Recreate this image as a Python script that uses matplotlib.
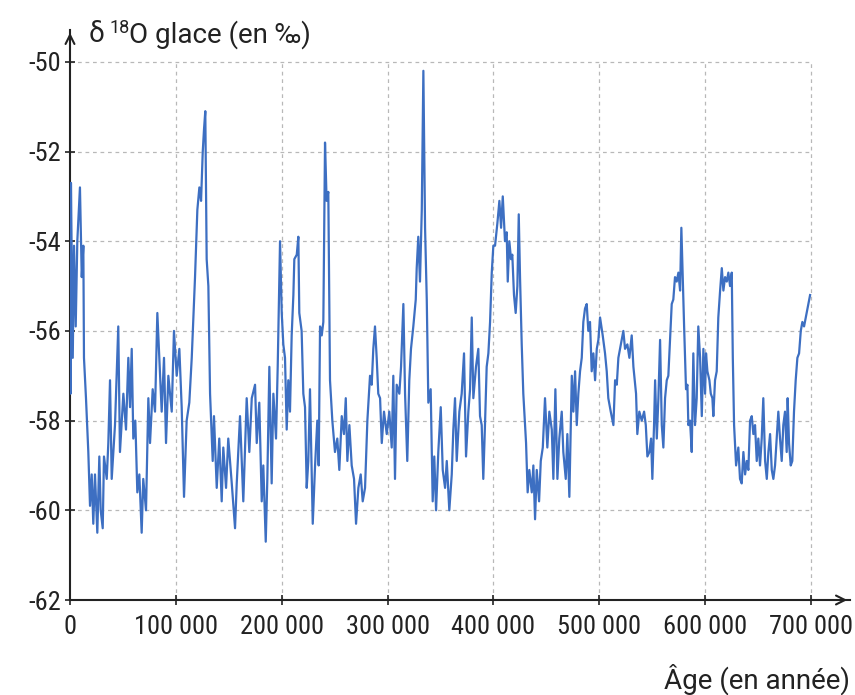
import matplotlib.pyplot as plt
import numpy as np

# age in thousands of years
age_kyr = [0, 0.5, 0.9, 2.6, 3.8, 5.4, 6.9, 9.4, 11.1, 12.6, 13.2, 15.1, 17.3, 18.9, 20.5, 22.0,
           23.6, 25.8, 27.7, 29.0, 30.9, 32.1, 34.7, 36.2, 37.8, 39.4, 42.5, 45.6, 47.2, 50.4,
           52.9, 55.1, 56.7, 58.3, 59.8, 61.7, 63.6, 65.5, 67.7, 69.2, 71.8, 74.0, 75.6, 78.1,
           80.3, 82.5, 84.4, 86.6, 88.8, 90.7, 92.9, 96.1, 98.2, 100.8, 103.3, 105.5, 107.7,
           110.2, 112.7, 115.0, 116.5, 118.1, 120.3, 122.2, 123.8, 125.4, 126.6, 127.8, 129.1,
           130.7, 132.3, 134.8, 136.0, 138.6, 141.0, 143.3, 144.8, 147.4, 149.5, 152.8, 155.9,
           157.5, 160.6, 163.7, 166.9, 169.4, 171.7, 174.8, 176.4, 178.8, 181.1, 182.6, 184.9,
           186.4, 188.3, 190.5, 192.1, 194.6, 196.2, 198.4, 200.0, 201.5, 203.1, 204.7, 206.2,
           207.8, 209.4, 211.0, 211.9, 214.2, 215.7, 216.6, 218.8, 220.4, 222.0, 223.6, 225.1,
           226.7, 229.3, 231.5, 233.6, 234.9, 236.2, 237.8, 239.3, 240.9, 242.4, 244.0, 245.6,
           247.8, 250.3, 252.5, 254.4, 256.7, 258.8, 260.5, 262.0, 263.9, 266.1, 268.3, 270.2,
           272.4, 274.6, 276.5, 278.7, 280.9, 283.4, 285.0, 286.5, 288.1, 289.7, 291.2, 292.9,
           294.5, 296.6, 299.2, 301.6, 303.9, 305.4, 307.0, 308.6, 311.1, 312.7, 314.9, 316.5,
           318.6, 320.5, 322.1, 324.3, 326.6, 327.5, 329.0, 330.6, 332.3, 333.8, 335.4, 337.0,
           338.5, 340.7, 342.6, 344.1, 345.8, 347.9, 350.2, 352.1, 354.3, 355.9, 358.3, 360.6,
           362.1, 363.7, 365.3, 367.8, 370.0, 372.2, 374.1, 376.3, 377.9, 379.5, 381.0, 383.5,
           385.7, 387.3, 388.9, 390.4, 392.0, 393.6, 395.2, 396.8, 398.4, 399.9, 401.5, 403.7,
           405.6, 407.2, 408.8, 410.9, 412.5, 413.5, 415.0, 416.6, 417.8, 419.4, 421.0, 422.6,
           423.9, 425.1, 426.7, 428.2, 430.8, 432.3, 433.9, 436.2, 437.7, 439.3, 440.9, 443.1,
           444.7, 446.6, 448.7, 450.9, 452.8, 455.1, 456.6, 458.5, 460.4, 462.2, 464.5, 466.0,
           468.3, 469.8, 471.7, 474.0, 475.5, 477.1, 478.7, 480.2, 481.8, 483.4, 484.9, 486.5,
           488.1, 489.6, 491.2, 492.8, 494.4, 496.0, 497.6, 499.1, 500.7, 503.2, 505.4, 507.0,
           508.5, 510.8, 513.3, 514.9, 516.5, 518.0, 520.3, 522.7, 524.3, 526.5, 528.4, 530.6,
           532.2, 534.7, 535.9, 537.8, 540.1, 542.3, 543.9, 545.4, 547.3, 548.9, 550.1, 551.7,
           552.7, 554.3, 555.8, 557.4, 559.0, 560.5, 562.1, 563.7, 565.2, 566.8, 568.4, 569.9,
           571.5, 573.1, 574.7, 576.3, 577.5, 578.8, 580.1, 581.9, 583.2, 584.1, 585.7, 587.3,
           588.8, 590.4, 592.0, 593.5, 595.2, 596.8, 598.3, 599.9, 600.8, 602.1, 604.0, 605.3,
           606.8, 607.7, 609.3, 610.9, 612.4, 614.1, 615.7, 617.2, 618.8, 620.4, 621.9, 623.5,
           625.1, 626.1, 627.3, 629.2, 631.3, 632.9, 634.5, 636.1, 637.7, 639.3, 640.8, 642.4,
           644.0, 645.5, 647.1, 648.7, 650.2, 651.8, 653.4, 654.9, 656.6, 658.2, 659.7, 661.3,
           662.9, 664.4, 666.0, 667.6, 669.1, 670.7, 672.3, 673.8, 675.4, 677.0, 677.9, 679.2,
           680.8, 682.3, 683.9, 685.5, 687.1, 688.7, 690.3, 691.8, 693.4, 695.0, 696.5, 698.1,
           699.1]

d18o = [-53.5, -57.4, -52.7, -56.6, -54.1, -55.9, -54.0, -52.8, -54.8, -54.1, -56.6, -57.5,
        -58.7, -59.9, -59.2, -60.3, -59.2, -60.5, -58.8, -60.0, -60.4, -58.8, -59.3, -58.5,
        -57.1, -59.3, -58.1, -55.9, -58.7, -57.4, -58.2, -56.6, -57.7, -56.4, -58.4, -58.0,
        -59.6, -59.2, -60.5, -59.3, -60.0, -57.5, -58.5, -57.3, -57.8, -55.6, -56.6, -57.8,
        -56.6, -58.5, -57.0, -57.8, -56.0, -57.0, -56.4, -57.7, -59.7, -58.0, -57.6, -56.6,
        -55.7, -54.8, -53.3, -52.8, -53.1, -52.0, -51.5, -51.1, -54.4, -55.0, -57.4, -58.9,
        -57.9, -59.5, -58.4, -59.8, -58.6, -59.5, -58.4, -59.4, -60.4, -59.4, -57.9, -59.8,
        -57.5, -58.7, -57.5, -57.2, -58.5, -57.6, -59.8, -59.0, -60.7, -59.3, -56.8, -59.4,
        -57.4, -58.4, -56.8, -54.0, -55.6, -56.3, -56.6, -58.2, -57.1, -57.8, -56.1, -55.2,
        -54.4, -54.3, -53.9, -55.6, -56.0, -57.4, -57.7, -59.5, -58.9, -57.3, -60.3, -59.0,
        -58.0, -59.0, -55.9, -56.1, -55.8, -51.8, -53.1, -52.9, -57.1, -58.0, -58.7, -58.4,
        -59.1, -57.9, -58.3, -57.5, -58.9, -58.1, -59.0, -59.3, -60.3, -59.5, -59.2, -59.8,
        -59.5, -58.0, -57.0, -57.2, -56.4, -55.9, -56.6, -57.4, -57.5, -58.5, -57.8, -58.3,
        -57.8, -58.6, -57.0, -59.3, -57.2, -57.4, -56.8, -55.4, -57.4, -58.9, -57.1, -56.4,
        -55.9, -55.3, -54.6, -53.9, -54.9, -53.3, -50.2, -53.7, -55.3, -57.6, -57.3, -59.8,
        -58.8, -60.0, -58.7, -57.7, -59.1, -59.5, -58.9, -60.0, -59.2, -58.2, -57.5, -58.9,
        -57.8, -57.4, -56.5, -58.8, -57.8, -57.3, -55.7, -57.5, -56.8, -56.4, -57.9, -58.1,
        -59.3, -58.1, -56.8, -56.5, -55.8, -54.7, -54.1, -54.1, -53.6, -53.1, -53.7, -53.0,
        -54.0, -53.8, -54.9, -54.0, -54.4, -54.3, -55.2, -55.6, -55.0, -53.4, -54.8, -56.3,
        -57.4, -58.5, -59.6, -59.1, -59.6, -59.0, -60.2, -59.1, -59.8, -58.9, -58.6, -57.5,
        -58.6, -57.8, -58.2, -59.3, -57.3, -59.3, -58.4, -57.8, -58.7, -59.3, -58.3, -59.7,
        -57.0, -57.8, -56.9, -58.1, -57.4, -56.9, -56.6, -55.8, -55.5, -55.4, -56.0, -55.8,
        -56.9, -56.5, -57.1, -56.4, -56.2, -55.7, -56.1, -56.5, -56.9, -57.5, -57.8, -58.1,
        -57.1, -57.2, -56.6, -56.3, -56.0, -56.4, -56.3, -56.6, -56.1, -56.8, -57.4, -58.3,
        -57.8, -58.0, -57.8, -58.1, -58.8, -58.7, -58.4, -59.3, -58.1, -57.1, -58.4, -57.5,
        -56.2, -58.1, -58.6, -57.5, -57.1, -57.0, -56.2, -55.4, -55.3, -54.8, -54.9, -54.7,
        -55.1, -53.7, -54.8, -55.9, -57.3, -57.2, -58.1, -58.0, -58.7, -56.5, -58.1, -57.5,
        -55.9, -56.6, -57.9, -56.4, -57.4, -56.5, -56.9, -57.1, -57.4, -57.5, -57.9, -57.1,
        -56.9, -55.7, -55.1, -54.6, -55.1, -54.8, -54.9, -54.7, -55.0, -54.7, -56.6, -58.1,
        -59.0, -58.6, -59.3, -59.4, -58.7, -59.2, -58.9, -59.1, -58.0, -57.9, -58.3, -58.1,
        -58.9, -58.4, -59.0, -58.4, -57.5, -58.9, -59.3, -58.7, -58.3, -59.1, -59.3, -59.0,
        -58.4, -57.8, -58.4, -58.9, -58.1, -57.8, -58.7, -57.5, -58.5, -59.0, -58.9, -57.8,
        -57.1, -56.6, -56.5, -56.0, -55.8, -55.9, -55.7, -55.5, -55.3, -55.2]

x_ticks = [0, 100000, 200000, 300000, 400000, 500000, 600000, 700000]
x_labels = ['0', '100 000', '200 000', '300 000', '400 000', '500 000', '600 000', '700 000']
y_ticks = [-62, -60, -58, -56, -54, -52, -50]

plt.rcParams['font.family'] = ['Roboto Condensed', 'Liberation Sans', 'DejaVu Sans']
label_font = ['Roboto', 'DejaVu Sans']

ages = np.array(age_kyr) * 1000

fig = plt.figure(figsize=(8.55, 6.95), dpi=100)
ax = fig.add_axes([70 / 855, 95 / 695, 780 / 855, 570 / 695])

# dashed grid, limited to the tick range
grid_style = dict(color='#b8b8b8', lw=0.9, linestyles=(0, (3, 3)), zorder=1)
ax.hlines(y_ticks[1:], 0, 700000, **grid_style)
ax.vlines(x_ticks[1:], -62, -50, **grid_style)

ax.plot(ages, d18o, color='#3d6fc2', lw=1.6, zorder=3)

ax.set_xlim(0, 736800)
ax.set_ylim(-62, -49.29)
ax.set_xticks(x_ticks)
ax.set_xticklabels(x_labels)
ax.set_yticks(y_ticks)
ax.set_yticklabels([str(v) for v in y_ticks])
ax.tick_params(axis='both', labelsize=19, color='#222222', width=1.2, length=7,
               direction='inout', labelcolor='#222222')
ax.tick_params(axis='x', pad=7)
ax.tick_params(axis='y', pad=3)

for s in ['top', 'right']:
    ax.spines[s].set_visible(False)
for s in ['left', 'bottom']:
    ax.spines[s].set_linewidth(1.5)
    ax.spines[s].set_color('#222222')

# arrow heads at the ends of the axes
ax.annotate('', xy=(1.0, 0), xytext=(0.985, 0), xycoords='axes fraction',
            arrowprops=dict(arrowstyle='->', color='#222222', lw=1.5, mutation_scale=16))
ax.annotate('', xy=(0, 1.0), xytext=(0, 0.98), xycoords='axes fraction',
            arrowprops=dict(arrowstyle='->', color='#222222', lw=1.5, mutation_scale=16))

fig.text(89 / 855, 1 - 35 / 695, 'δ', fontsize=20, va='center', ha='left', color='#222222',
         family=label_font)
fig.text(109 / 855, 1 - 28 / 695, '18', fontsize=13, va='center', ha='left', color='#222222',
         family=label_font)
fig.text(129 / 855, 1 - 35 / 695, 'O glace (en ‰)', fontsize=20, va='center', ha='left',
         color='#222222', family=label_font)
fig.text(850 / 855, 1 - 679 / 695, 'Âge (en année)', fontsize=20, va='center', ha='right',
         color='#222222', family=label_font)

fig.savefig('out.png', dpi=100)
